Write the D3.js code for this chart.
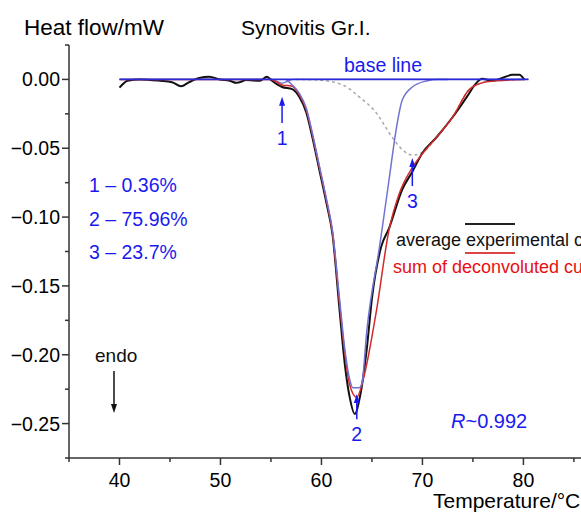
<!DOCTYPE html>
<html><head><meta charset="utf-8">
<script src="https://cdn.jsdelivr.net/npm/d3@7/dist/d3.min.js"></script>
<style>body{margin:0;background:#fff}svg{display:block;font-family:"Liberation Sans",Arial,sans-serif}</style>
</head><body><svg id="c" width="581" height="513"></svg>
<script>
// ---- data (Temperature °C, heat flow mW) ----
const experimental = [[40.0,-0.006],[40.8,-0.001],[42.0,0.000],[44.0,-0.001],[45.2,-0.002],[46.1,-0.005],[46.9,-0.002],[47.9,0.001],[48.9,0.002],[49.9,0.000],[50.9,-0.001],[51.6,-0.0025],[52.6,-0.0005],[53.9,-0.001],[54.6,0.002],[55.1,-0.001],[56.1,-0.0055],[57.1,-0.007],[57.8,-0.0125],[58.5,-0.024],[59.1,-0.042],[59.8,-0.066],[60.5,-0.090],[61.1,-0.113],[61.8,-0.168],[62.3,-0.206],[62.8,-0.231],[63.3,-0.243],[63.8,-0.231],[64.5,-0.195],[65.0,-0.159],[65.9,-0.122],[66.7,-0.108],[68.0,-0.080],[69.0,-0.067],[70.0,-0.0535],[71.4,-0.042],[73.0,-0.0273],[74.4,-0.0127],[75.35,-0.0025],[75.9,0.0004],[76.9,-0.001],[77.9,0.001],[78.9,0.0033],[79.6,0.0033],[80.1,-0.0004]];
const deconvolutedSum = [[40,0],[55.0,0],[55.6,-0.002],[56.1,-0.004],[57.1,-0.005],[57.8,-0.011],[58.5,-0.022],[59.1,-0.040],[59.8,-0.064],[60.5,-0.088],[61.1,-0.112],[61.8,-0.163],[62.3,-0.198],[62.8,-0.222],[63.5,-0.231],[64.1,-0.219],[65.4,-0.170],[66.7,-0.109],[67.7,-0.083],[69.0,-0.064],[70.0,-0.054],[71.4,-0.042],[73.0,-0.0273],[74.6,-0.0076],[75.9,-0.0025],[77.3,-0.001],[80.1,0]];
const component1 = [[40,0],[55.0,0],[55.6,-0.0015],[56.1,-0.0028],[56.6,-0.0015],[57.2,0],[80.5,0]];
const component2 = [[56.5,0],[57.1,-0.004],[57.8,-0.010],[58.5,-0.021],[59.1,-0.039],[59.8,-0.063],[60.5,-0.087],[61.1,-0.110],[61.8,-0.160],[62.3,-0.195],[62.8,-0.218],[63.1,-0.224],[63.7,-0.224],[64.0,-0.221],[64.5,-0.182],[65.74,-0.122],[66.04,-0.107],[66.73,-0.071],[67.43,-0.035],[68.0,-0.015],[69.0,-0.0055],[70.4,-0.0011],[71.5,0],[72.5,0]];
const component3 = [[57.5,0],[59.8,-0.0005],[62.1,-0.004],[63.8,-0.013],[65.4,-0.024],[67.0,-0.042],[68.0,-0.051],[69.0,-0.055],[70.0,-0.053],[71.4,-0.042],[73.0,-0.0273],[74.6,-0.0076],[75.9,-0.0025],[77.3,-0.001],[80.1,0]];
const baseLine = [[40,0],[80.5,0]];
const xMajorTicks = [40,50,60,70,80];
const xMinorTicks = [35,45,55,65,75,85];
const yMajorTicks = [0,-0.05,-0.10,-0.15,-0.20,-0.25];
const yMinorTicks = [0.025,-0.025,-0.075,-0.125,-0.175,-0.225,-0.275];
const peakShares = ["1 – 0.36%","2 – 75.96%","3 – 23.7%"];
const peakArrows = [{label:"1",t:56.1,tip:-0.0125,tail:-0.0317},{label:"2",t:63.5,tip:-0.2286,tail:-0.2468},{label:"3",t:69.0,tip:-0.0571,tail:-0.0774}];

const svg = d3.select("#c");
const x = d3.scaleLinear().domain([35,86]).range([69,584]);
const y = d3.scaleLinear().domain([-0.275,0.025]).range([458,45]);
const blue = "#1a1aee";
const fmt = v => d3.format(".2f")(v).replace("-","\u2013");

// axes
const ax = "#333";
svg.append("line").attr("x1",69).attr("x2",69).attr("y1",45).attr("y2",458).attr("stroke",ax).attr("stroke-width",1.5);
svg.append("line").attr("x1",69).attr("x2",581).attr("y1",458).attr("y2",458).attr("stroke",ax).attr("stroke-width",1.5);
yMajorTicks.forEach(v=>{
  svg.append("line").attr("x1",62).attr("x2",69).attr("y1",y(v)).attr("y2",y(v)).attr("stroke",ax).attr("stroke-width",1.5);
  svg.append("text").attr("x",60).attr("y",y(v)+7).attr("text-anchor","end").attr("font-size",19.5).text(fmt(v));
});
yMinorTicks.forEach(v=>svg.append("line").attr("x1",65).attr("x2",69).attr("y1",y(v)).attr("y2",y(v)).attr("stroke",ax).attr("stroke-width",1.5));
xMajorTicks.forEach(v=>{
  svg.append("line").attr("x1",x(v)).attr("x2",x(v)).attr("y1",458).attr("y2",465).attr("stroke",ax).attr("stroke-width",1.5);
  svg.append("text").attr("x",x(v)).attr("y",487).attr("text-anchor","middle").attr("font-size",19.5).text(v);
});
xMinorTicks.forEach(v=>svg.append("line").attr("x1",x(v)).attr("x2",x(v)).attr("y1",458).attr("y2",462).attr("stroke",ax).attr("stroke-width",1.5));

svg.append("text").attr("x",24).attr("y",35).attr("font-size",22.5).text("Heat flow/mW");
svg.append("text").attr("x",241).attr("y",35).attr("font-size",21).text("Synovitis Gr.I.");
svg.append("text").attr("x",433).attr("y",508).attr("font-size",21).text("Temperature/°C");

// curves
const line = d3.line().x(d=>x(d[0])).y(d=>y(d[1])).curve(d3.curveMonotoneX);
const draw = (data,color,w,dash)=>svg.append("path").datum(data).attr("d",line).attr("fill","none").attr("stroke",color).attr("stroke-width",w).attr("stroke-dasharray",dash||null).attr("stroke-linejoin","round");
draw(component3,"#aaaaaa",1.5,"3,3");
draw(component1,"#7777cc",1.4);
draw(experimental,"#111111",2);
draw(deconvolutedSum,"#d42a2a",1.5);
draw(component2,"#7272d0",1.5);
draw(baseLine,"#2a2ad8",1.8);

// annotations
const arrowHead = (cx, cy, dir, color) => svg.append("path")
  .attr("d", `M${cx-3},${cy+dir*9} L${cx},${cy} L${cx+3},${cy+dir*9} Z`).attr("fill", color);
peakArrows.forEach((a,i)=>{
  const px = x(a.t);
  svg.append("line").attr("x1",px).attr("x2",px).attr("y1",y(a.tail)).attr("y2",y(a.tip)+4).attr("stroke",blue).attr("stroke-width",1.5);
  arrowHead(px, y(a.tip), 1, blue);
  svg.append("text").attr("x",px).attr("y",y(a.tail)+22).attr("text-anchor","middle").attr("font-size",19.5).attr("fill",blue).text(a.label);
});
svg.append("text").attr("x",383).attr("y",72).attr("text-anchor","middle").attr("font-size",19.5).attr("fill",blue).text("base line");
peakShares.forEach((s,i)=>svg.append("text").attr("x",89).attr("y",192+i*33.5).attr("font-size",19.5).attr("fill",blue).text(s));
svg.append("text").attr("x",95).attr("y",362).attr("font-size",19).attr("fill","#111").text("endo");
svg.append("line").attr("x1",114).attr("x2",114).attr("y1",371).attr("y2",406).attr("stroke","#111").attr("stroke-width",1.5);
arrowHead(114, 413, -1, "#111");
const rt = svg.append("text").attr("x",451).attr("y",428).attr("font-size",20).attr("fill",blue);
rt.append("tspan").attr("font-style","italic").text("R");
rt.append("tspan").text("~0.992");

// legend
svg.append("line").attr("x1",465).attr("x2",515).attr("y1",224).attr("y2",224).attr("stroke","#222").attr("stroke-width",2);
svg.append("text").attr("x",396).attr("y",246).attr("font-size",18).attr("fill","#111").text("average experimental curve");
svg.append("line").attr("x1",465).attr("x2",515).attr("y1",253).attr("y2",253).attr("stroke","#d44").attr("stroke-width",2);
svg.append("text").attr("x",393).attr("y",273).attr("font-size",18).attr("fill","#e81010").text("sum of deconvoluted curves");
</script></body></html>
